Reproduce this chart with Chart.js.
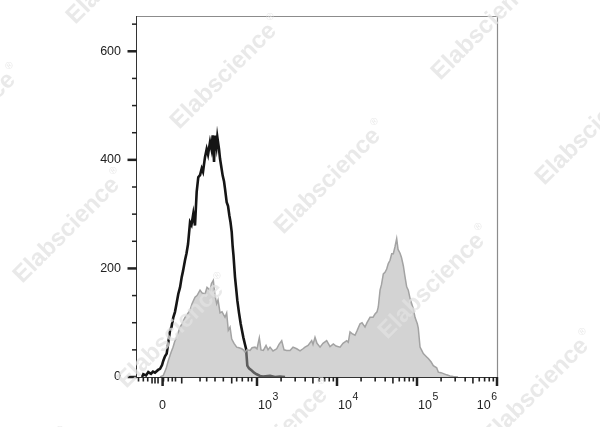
<!DOCTYPE html>
<html>
<head>
<meta charset="utf-8">
<script src="https://cdn.jsdelivr.net/npm/chart.js@4.4.1/dist/chart.umd.min.js"></script>
<style>
  html, body { margin: 0; padding: 0; background: #fff; }
  canvas { display: block; }
</style>
</head>
<body>
<canvas id="histo" width="600" height="427"></canvas>
<script>
// x is in display units of the biexponential axis: 3 = 10^3, 4 = 10^4 ...
var controlX = [1.563,1.579,1.613,1.641,1.675,1.700,1.725,1.763,1.788,1.813,1.829,1.850,1.871,1.888,1.913,1.931,1.954,1.975,1.994,2.016,2.038,2.059,2.075,2.100,2.119,2.138,2.163,2.181,2.204,2.225,2.246,2.266,2.288,2.309,2.325,2.350,2.371,2.388,2.413,2.431,2.446,2.463,2.475,2.494,2.504,2.525,2.538,2.556,2.571,2.588,2.600,2.621,2.638,2.654,2.669,2.684,2.696,2.706,2.725,2.738,2.754,2.775,2.796,2.813,2.829,2.850,2.863,2.879,2.900,2.934,2.963,2.996,3.038,3.075,3.163,3.225,3.288,3.350];
var controlCounts = [0,5,3,9,6,10,8,13,15,22,30,38,43,60,86,92,110,120,135,153,165,184,195,215,228,245,285,280,301,279,341,368,372,384,378,405,420,410,433,420,445,396,445,425,442,420,402,385,371,360,347,322,315,298,285,267,240,224,184,165,141,118,98,85,73,60,52,21,16,12,8,5,2,1,2,0,1,0];

var stainedX = [1.788,1.829,1.863,1.891,1.925,1.950,1.975,2.000,2.038,2.063,
  2.100,2.125,2.163,2.188,2.225,2.250,2.288,2.313,2.350,2.375,
  2.413,2.431,2.454,2.475,2.496,2.513,2.538,2.563,2.600,2.621,
  2.641,2.663,2.684,2.713,2.746,2.775,2.809,2.829,2.850,2.875,
  2.913,2.938,2.975,3.000,3.029,3.050,3.079,3.113,3.138,3.163,
  3.200,3.246,3.275,3.309,3.338,3.371,3.413,3.450,3.496,3.538,
  3.575,3.600,3.638,3.684,3.700,3.725,3.750,3.788,3.825,3.871,
  3.913,3.954,3.988,4.038,4.075,4.121,4.141,4.163,4.188,4.225,
  4.250,4.288,4.313,4.350,4.375,4.413,4.450,4.475,4.500,4.516,
  4.538,4.556,4.579,4.600,4.621,4.641,4.663,4.684,4.704,4.725,
  4.746,4.763,4.788,4.806,4.829,4.850,4.871,4.891,4.913,4.934,
  4.954,4.975,5.004,5.016,5.038,5.056,5.079,5.121,5.141,5.175,
  5.204,5.246,5.266,5.300,5.371,5.413,5.454,5.513];
var stainedCounts = [0,3,15,30,45,55,67,75,92,98,
  110,115,123,135,147,150,160,155,153,165,
  160,172,178,150,135,142,118,120,110,118,
  86,92,70,62,55,54,52,50,46,50,
  49,54,55,52,72,50,49,58,50,55,
  48,52,60,67,50,49,49,55,52,48,
  52,55,58,67,60,73,62,55,62,67,
  56,61,57,55,62,67,64,83,80,77,
  85,98,100,92,100,110,110,116,120,129,
  160,170,190,193,199,209,215,227,227,240,
  255,235,228,220,205,185,166,160,145,135,
  126,110,98,90,55,50,43,37,34,28,
  21,17,9,8,4,2,1,0];

var yTickValues = [0, 200, 400, 600];
var yMinorValues = [50, 100, 150, 250, 300, 350, 450, 500, 550, 650];
var xTickValues = [1.82, 3, 4, 5, 6];
var xTickBase = ['0', '10', '10', '10', '10'];
var xTickExp = ['', '3', '4', '5', '6'];
// extra marks in the linear part round zero, the long ones flagged 1
var xNearZeroTicks = [1.519, 1.579, 1.634, 1.688, 1.725, 1.763, 1.831, 1.891, 1.941, 1.981, 2.059, 2.288, 2.371, 2.475, 2.579, 2.684, 2.746, 2.816, 2.891, 2.934];
var xNearZeroLong = [0, 0, 0, 1, 1, 1, 0, 0, 0, 0, 1, 0, 0, 0, 0, 1, 0, 0, 0, 0];

var FONT = '"Liberation Sans", Arial, sans-serif';

function toPoints(xs, ys) {
    var pts = [];
    for (var i = 0; i < xs.length; i++) {
        pts.push({ x: xs[i], y: ys[i] });
    }
    return pts;
}

var axisMarks = {
    id: 'axisMarks',
    afterDraw: function (chart) {
        var ctx = chart.ctx;
        var xs = chart.scales.x, ys = chart.scales.y;
        var area = chart.chartArea;
        ctx.save();

        // frame: light top/right, dark axes
        ctx.strokeStyle = '#8c8c8c';
        ctx.lineWidth = 1.2;
        ctx.beginPath();
        ctx.moveTo(area.left, area.top + 0.5);
        ctx.lineTo(area.right + 0.5, area.top + 0.5);
        ctx.lineTo(area.right + 0.5, area.bottom);
        ctx.stroke();
        ctx.strokeStyle = '#333';
        ctx.lineWidth = 1;
        ctx.beginPath();
        ctx.moveTo(area.left - 0.5, area.top);
        ctx.lineTo(area.left - 0.5, area.bottom + 0.5);
        ctx.lineTo(area.right + 1, area.bottom + 0.5);
        ctx.stroke();

        ctx.fillStyle = '#222';
        function xTick(v, len, w) {
            var px = xs.getPixelForValue(v);
            ctx.fillRect(px - w / 2, area.bottom, w, len);
        }
        function yTick(v, len, w) {
            var py = ys.getPixelForValue(v);
            ctx.fillRect(area.left - len, py - w / 2, len, w);
        }

        yTickValues.forEach(function (v) { yTick(v, 9.5, 2.5); });
        yMinorValues.forEach(function (v) { yTick(v, 5, 1.5); });

        xTickValues.forEach(function (v) { xTick(v, 9, 2.5); });
        xNearZeroTicks.forEach(function (v, i) {
            xTick(v, xNearZeroLong[i] ? 6.5 : 4.5, 1.6);
        });
        [3, 4, 5].forEach(function (d) {
            for (var k = 2; k <= 9; k++) {
                xTick(d + Math.log10(k), k === 5 ? 6.5 : 4.5, 1.6);
            }
        });

        // x labels with raised exponents
        ctx.textBaseline = 'alphabetic';
        ctx.textAlign = 'left';
        var last = xTickValues.length - 1;
        xTickValues.forEach(function (v, i) {
            var px = xs.getPixelForValue(v);
            ctx.font = '12.5px ' + FONT;
            var bw = ctx.measureText(xTickBase[i]).width;
            ctx.font = '10.5px ' + FONT;
            var ew = xTickExp[i] ? ctx.measureText(xTickExp[i]).width + 0.5 : 0;
            var left;
            if (!xTickExp[i]) left = px - bw / 2;
            else if (i === last) left = px - bw - ew;
            else left = px + 1;
            ctx.font = '12.5px ' + FONT;
            ctx.fillText(xTickBase[i], left, area.bottom + 31.5);
            if (xTickExp[i]) {
                ctx.font = '10.5px ' + FONT;
                ctx.fillText(xTickExp[i], left + bw + 0.5, area.bottom + 22.5);
            }
        });

        // watermark grid
        ctx.fillStyle = 'rgba(225,225,225,0.75)';
        var base = [227, 73], v1 = [104, 105], v2 = [261, -49];
        for (var m = -2; m <= 4; m++) {
            for (var n = -2; n <= 2; n++) {
                var cx = base[0] + m * v1[0] + n * v2[0];
                var cy = base[1] + m * v1[1] + n * v2[1];
                if (cx < -120 || cx > 720 || cy < -120 || cy > 550) continue;
                ctx.save();
                ctx.translate(cx, cy);
                ctx.rotate(-Math.PI / 4);
                ctx.font = 'bold 24px ' + FONT;
                var tw = ctx.measureText('Elabscience').width;
                ctx.font = '10px ' + FONT;
                var rw = ctx.measureText('\u00AE').width;
                var start = -(tw + rw + 2) / 2;
                ctx.textBaseline = 'middle';
                ctx.font = 'bold 24px ' + FONT;
                ctx.fillText('Elabscience', start, 0);
                ctx.font = '10px ' + FONT;
                ctx.fillText('\u00AE', start + tw + 2, -9);
                ctx.restore();
            }
        }
        ctx.restore();
    }
};

new Chart(document.getElementById('histo'), {
    type: 'line',
    data: {
        datasets: [{
            label: 'stained',
            data: toPoints(stainedX, stainedCounts),
            order: 0,
            borderColor: '#a3a3a3',
            borderWidth: 1.5,
            backgroundColor: 'rgba(168,168,168,0.5)',
            fill: 'origin',
            pointRadius: 0,
            tension: 0
        }, {
            label: 'control',
            data: toPoints(controlX, controlCounts),
            order: 1,
            borderColor: '#151515',
            borderWidth: 2.6,
            fill: false,
            pointRadius: 0,
            tension: 0
        }]
    },
    options: {
        responsive: false,
        animation: false,
        events: [],
        layout: { padding: { top: 16, right: 103, bottom: 0, left: 0 } },
        plugins: {
            legend: { display: false },
            tooltip: { enabled: false }
        },
        scales: {
            x: {
                type: 'linear',
                min: 1.5,
                max: 6,
                grid: { display: false, drawTicks: false },
                border: { display: false },
                ticks: { display: false },
                afterFit: function (scale) { scale.height = 50; }
            },
            y: {
                type: 'linear',
                min: 0,
                max: 665,
                grid: { display: false, drawTicks: false },
                border: { display: false },
                ticks: {
                    padding: 16,
                    color: '#222',
                    font: { family: FONT, size: 12.5 }
                },
                afterBuildTicks: function (scale) {
                    scale.ticks = yTickValues.map(function (v) { return { value: v }; });
                },
                afterFit: function (scale) {
                    scale.width = 137;
                    // ticks.padding would otherwise push the plot top down
                    scale.paddingTop = 0;
                    scale.paddingBottom = 0;
                }
            }
        }
    },
    plugins: [axisMarks]
});
</script>
</body>
</html>
